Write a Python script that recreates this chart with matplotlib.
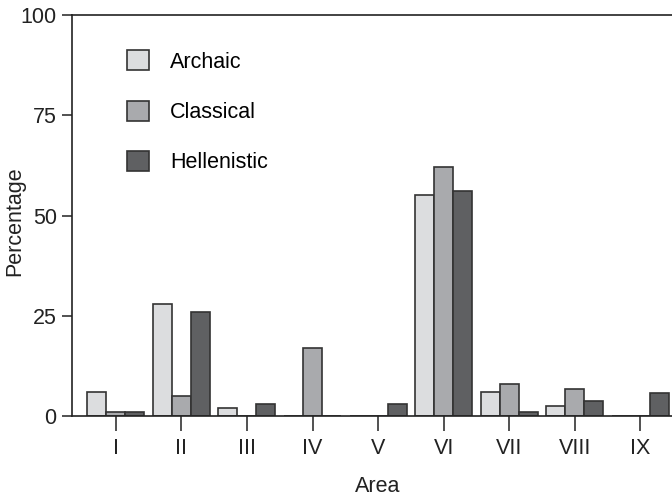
import numpy as np
import matplotlib.pyplot as plt

plt.rcParams['font.family'] = ['Liberation Sans', 'DejaVu Sans']

# data
areas = ['I', 'II', 'III', 'IV', 'V', 'VI', 'VII', 'VIII', 'IX']
archaic = [6, 28, 2, 0, 0, 55, 6, 2.5, 0]
classical = [1, 5, 0, 17, 0, 62, 8, 6.7, 0]
hellenistic = [1, 26, 3, 0, 3, 56, 1, 3.7, 5.7]

series = [('Archaic', archaic, '#dcdddf'),
          ('Classical', classical, '#a9aaad'),
          ('Hellenistic', hellenistic, '#5f6062')]

fs = 15.5
fig = plt.figure(figsize=(6.72, 4.98), dpi=100)
ax = fig.add_axes([0.1071, 0.1647, 0.911, 0.805])

x = np.arange(len(areas))
w = 0.29
for i, (name, vals, col) in enumerate(series):
    ax.bar(x + (i - 1) * w, vals, w, color=col, edgecolor='#333333',
           linewidth=1.2, label=name, zorder=2)

ax.set_xlim(-0.67, 8.67)
ax.set_ylim(0, 100)
ax.set_yticks([0, 25, 50, 75, 100])
ax.set_xticks(x)
ax.set_xticklabels(areas)
ax.tick_params(axis='x', length=11, width=1.1, labelsize=fs, pad=5, colors='#222222')
ax.tick_params(axis='y', length=7, width=1.1, labelsize=fs, pad=4, colors='#222222')
for s in ax.spines.values():
    s.set_linewidth(1.2)
    s.set_color('#222222')

ax.set_xlabel('Area', fontsize=fs, labelpad=12, color='#222222')
fig.text(15 / 672, 0.556, 'Percentage', rotation=90, ha='center',
         va='center', fontsize=fs, color='#222222')

ax.legend(loc='upper left', bbox_to_anchor=(0.058, 0.96), frameon=False,
          fontsize=fs, handlelength=1.05, handleheight=1.05,
          labelspacing=1.3, handletextpad=0.95)

plt.savefig('out.png', dpi=100)
